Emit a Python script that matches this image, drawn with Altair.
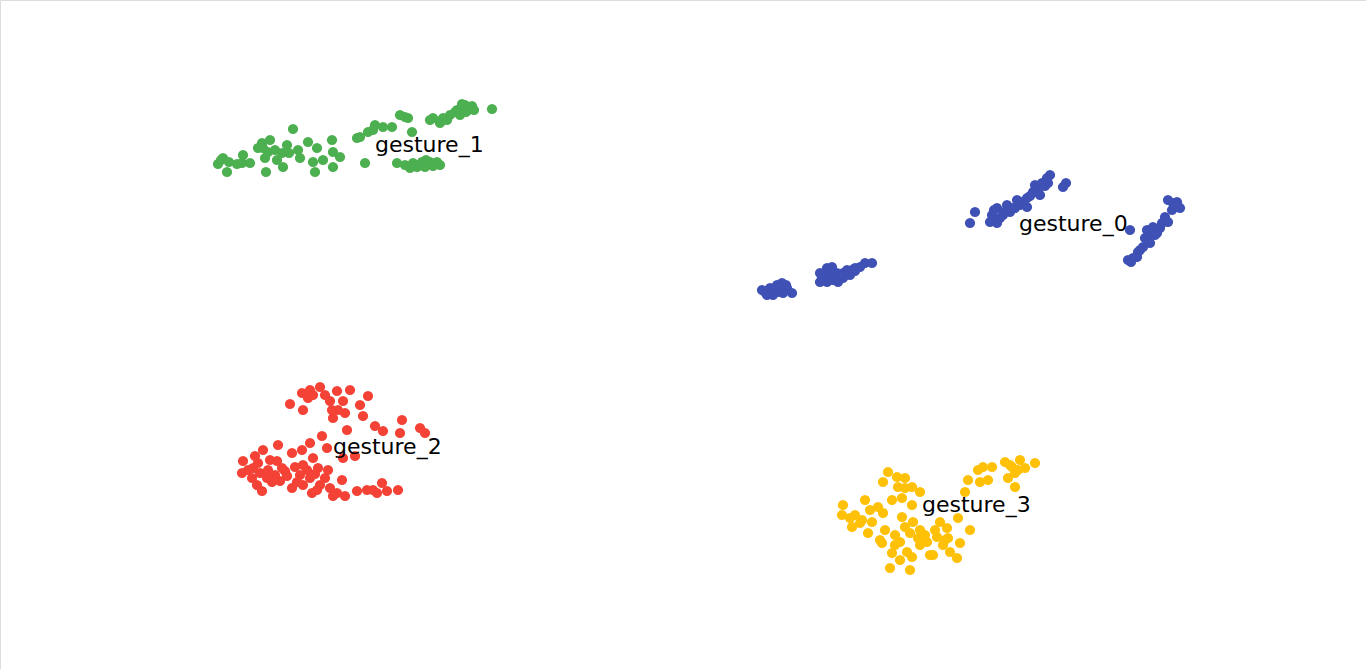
import altair as alt
import pandas as pd

# Embedding coordinates (x to the right, y downward)
g0_x = [765, 770, 777, 782, 787, 792, 773, 767, 783, 778, 770, 780, 762, 775, 786,
        820, 827, 832, 820, 827, 833, 838, 837, 843, 847, 852, 855, 860, 865, 872, 830, 843, 850, 825,
        822, 835, 840, 855,
        970, 975, 992, 990, 997, 1000, 1007, 1010, 1017, 1015, 1020, 1027, 1033, 1035, 1042, 1040,
        1047, 1050, 1048, 1066, 1063, 997, 1003, 1027, 994, 1004, 1012, 1022, 1030, 1038, 1045,
        1130, 1168, 1177, 1180, 1172, 1165, 1162, 1168, 1153, 1147, 1150, 1157, 1145, 1143, 1138,
        1133, 1128, 1137, 1150, 1173, 1178, 1160, 1155, 1140, 1131]
g0_y = [292, 288, 285, 283, 288, 293, 295, 295, 293, 292, 292, 287, 290, 290, 285,
        273, 268, 267, 282, 282, 280, 282, 273, 273, 270, 270, 268, 267, 263, 263, 273, 278, 275, 277,
        277, 276, 276, 271,
        223, 212, 215, 222, 208, 218, 205, 212, 200, 208, 205, 198, 192, 185, 183, 195,
        178, 175, 183, 183, 187, 223, 215, 207, 210, 212, 208, 202, 196, 190, 186,
        230, 200, 202, 208, 210, 217, 223, 222, 227, 230, 237, 233, 238, 247, 252,
        258, 260, 257, 243, 203, 206, 228, 235, 250, 262]

g1_x = [293, 223, 218, 227, 237, 243, 242, 250, 262, 270, 263, 265, 266, 275, 277, 282, 287,
        283, 298, 300, 308, 313, 315, 317, 323, 332, 333, 333, 340, 357,
        492, 465, 468, 457, 450, 460, 443, 433, 440, 430, 405, 400, 408, 392, 383, 375, 373,
        360, 368, 412, 365, 397, 405, 413, 422, 430, 437, 440, 417,
        462, 472, 455, 466, 474, 447, 425, 410, 433, 426, 420, 258, 268, 289, 221, 229]
g1_y = [129, 158, 164, 172, 164, 155, 163, 163, 143, 140, 148, 158, 172, 150, 160, 153, 145,
        167, 150, 158, 142, 162, 172, 148, 160, 140, 152, 167, 157, 138,
        109, 105, 110, 110, 115, 115, 118, 118, 123, 120, 117, 115, 118, 127, 127, 125, 130,
        137, 132, 132, 163, 163, 165, 163, 162, 162, 162, 165, 167,
        104, 106, 112, 112, 110, 120, 167, 168, 166, 160, 165, 148, 152, 153, 160, 162]

g2_x = [290, 303, 302, 310, 320, 313, 325, 330, 332, 333, 322, 310, 302, 292, 278, 263, 255,
        243, 242, 253, 260, 270, 277, 282, 275, 267, 257, 262, 280, 287, 292, 300, 303, 313,
        318, 310, 303, 312, 320, 325, 330, 333,
        337, 350, 343, 338, 345, 360, 368, 363, 375, 383, 402, 400, 420, 425, 347, 343, 355,
        342, 337, 345, 357, 367, 377, 382, 373, 387, 398,
        248, 258, 268, 285, 297, 307, 317, 328, 252, 272, 295, 315, 327, 308]
g2_y = [404, 410, 393, 390, 387, 395, 395, 401, 410, 418, 436, 443, 450, 453, 445, 450, 456,
        461, 473, 468, 473, 460, 461, 468, 475, 478, 485, 491, 481, 476, 488, 475, 465, 458,
        468, 478, 485, 493, 485, 478, 488, 496,
        391, 390, 401, 410, 413, 405, 396, 416, 426, 431, 420, 433, 428, 433, 430, 458, 456,
        480, 493, 496, 491, 490, 493, 483, 490, 491, 490,
        470, 463, 470, 471, 482, 470, 490, 470, 478, 482, 467, 474, 448, 398]

g3_x = [888, 883, 897, 905, 898, 912, 905, 920, 902, 912, 843, 842, 855, 865, 870, 878, 883,
        860, 872, 852, 868, 885, 902, 905, 913, 910, 920, 882, 895, 900, 892, 907, 912, 890,
        910, 920, 927, 930,
        968, 978, 983, 992, 988, 980, 1005, 1012, 1020, 1025, 1035, 1015, 1008, 1015, 965,
        958, 970, 940, 947, 937, 948, 960, 950, 957, 933, 943,
        925, 935, 945, 918, 895, 880, 862, 850, 900, 1010, 1018, 892]
g3_y = [472, 482, 477, 478, 487, 487, 488, 492, 498, 505, 505, 515, 515, 500, 510, 507, 513,
        523, 522, 527, 533, 530, 517, 527, 522, 533, 530, 543, 545, 542, 553, 552, 557, 568,
        570, 545, 542, 555,
        480, 470, 467, 467, 480, 482, 462, 467, 460, 468, 463, 473, 478, 487, 492,
        518, 530, 522, 528, 537, 538, 543, 552, 558, 555, 545,
        535, 530, 540, 538, 535, 540, 520, 518, 560, 465, 470, 500]

labels = ["gesture_0", "gesture_1", "gesture_2", "gesture_3"]
label_x = [1019, 375, 333, 922]
label_y = [231, 152, 454, 512]
colors = ["#3F51B5", "#4CAF50", "#F44336", "#FFC107"]

rows = []
for lab, xs, ys in zip(labels, [g0_x, g1_x, g2_x, g3_x], [g0_y, g1_y, g2_y, g3_y]):
    for x, y in zip(xs, ys):
        rows.append({"x": x, "y": y, "label": lab})
pts = pd.DataFrame(rows)
lab_df = pd.DataFrame({"x": label_x, "y": label_y, "label": labels})

xs = alt.Scale(domain=[0, 1366], nice=False, zero=False)
ys = alt.Scale(domain=[669, 0], nice=False, zero=False)

points = alt.Chart(pts).mark_circle(size=105, opacity=1).encode(
    x=alt.X("x:Q", scale=xs, axis=None),
    y=alt.Y("y:Q", scale=ys, axis=None),
    color=alt.Color("label:N", scale=alt.Scale(domain=labels, range=colors), legend=None),
)

text = alt.Chart(lab_df).mark_text(
    align="left", baseline="alphabetic", fontSize=22, font="DejaVu Sans", color="black"
).encode(
    x=alt.X("x:Q", scale=xs, axis=None),
    y=alt.Y("y:Q", scale=ys, axis=None),
    text="label:N",
)

chart = (points + text).properties(
    width=1366, height=669, padding=0, autosize=alt.AutoSizeParams(type="none")
).configure_view(stroke=None).configure(background="white")

chart.save("out.html", embed_options={"renderer": "svg", "actions": False})
